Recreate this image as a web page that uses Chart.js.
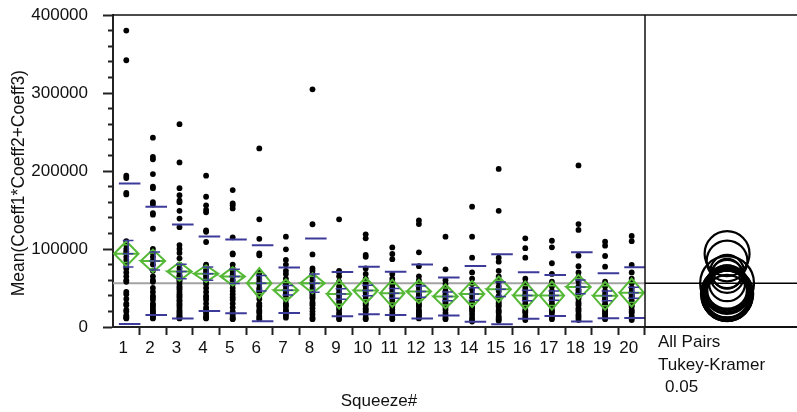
<!DOCTYPE html>
<html lang="en">
<head>
<meta charset="UTF-8">
<title>Oneway Analysis of Mean(Coeff1*Coeff2+Coeff3) By Squeeze#</title>
<script src="https://cdn.jsdelivr.net/npm/chart.js"></script>
<style>
    body { margin: 0; background: #fff; }
    #wrap { position: relative; width: 797px; height: 412px; overflow: hidden; }
    #main { position: absolute; left: 0; top: 0; }
    #circles { position: absolute; left: 645px; top: 0; }
    #note {
        position: absolute; left: 658px; top: 331px;
        font: 17px "Liberation Sans", Arial, sans-serif;
        line-height: 22.5px; color: #111;
    }
</style>
</head>
<body>
<div id="wrap">
    <canvas id="main" width="797" height="412"></canvas>
    <canvas id="circles" width="152" height="412"></canvas>
    <div id="note">All Pairs<br>Tukey-Kramer<br><span style="padding-left:7px">0.05</span></div>
</div>

<script>
    // Squeeze# groups
    var squeeze = [1, 2, 3, 4, 5, 6, 7, 8, 9, 10, 11, 12, 13, 14, 15, 16, 17, 18, 19, 20];

    // raw points per group
    var values = [
        [380000, 342000, 194000, 191000, 172000, 170000, 110000, 105000, 100000, 97000, 95000, 90000, 86000, 80000, 75000, 70000, 65000, 60000, 58000, 45000, 42000, 36000, 30000, 28000, 22000, 20000, 15000, 13000, 12000, 11000],
        [242700, 218000, 215000, 196000, 180000, 178000, 160000, 157000, 146000, 144000, 126000, 100000, 95000, 90000, 85000, 80000, 72000, 65000, 60000, 58000, 50000, 45000, 40000, 38000, 35000, 30000, 28000, 25000, 22000, 20000, 18000, 16000, 15000, 14000, 12000, 11000],
        [260000, 211000, 178000, 169000, 162000, 160000, 149000, 139000, 128000, 105000, 100000, 95000, 88000, 80000, 75000, 70000, 66000, 65000, 62000, 60000, 58000, 55000, 52000, 50000, 48000, 45000, 42000, 40000, 38000, 35000, 33000, 30000, 28000, 25000, 22000, 20000, 18000, 16000, 14000, 13000, 12000, 11000],
        [194000, 167000, 156000, 150000, 147000, 124000, 122000, 109000, 80000, 78000, 75000, 72000, 70000, 68000, 65000, 62000, 58000, 55000, 50000, 45000, 40000, 38000, 35000, 30000, 25000, 22000, 20000, 17000, 14000, 12000, 11000],
        [175600, 158600, 156000, 152000, 115000, 94500, 93000, 80000, 75000, 72000, 68000, 65000, 60000, 55000, 50000, 46000, 42000, 38000, 35000, 30000, 25000, 20000, 16000, 13000, 11000, 10000],
        [229000, 138000, 113000, 94500, 92000, 70000, 66000, 62000, 58000, 55000, 50000, 48000, 45000, 40000, 36000, 30000, 28000, 26000, 22000, 20000, 18000, 14000, 12000, 10000],
        [115800, 99600, 86000, 80000, 72000, 68000, 62000, 58000, 55000, 52000, 48000, 45000, 42000, 38000, 35000, 30000, 28000, 26000, 22000, 20000, 18000, 15000, 12000],
        [304700, 131700, 93000, 75000, 72000, 68000, 64000, 60000, 55000, 50000, 45000, 42000, 40000, 38000, 36000, 32000, 30000, 28000, 24000, 20000, 16000, 12000, 10000],
        [138000, 72000, 70000, 65000, 58000, 52000, 48000, 44000, 40000, 36000, 32000, 28000, 25000, 22000, 18000, 15000, 12000, 10000],
        [118800, 113700, 92300, 90000, 75000, 68000, 62000, 56000, 52000, 48000, 44000, 40000, 36000, 32000, 30000, 28000, 24000, 22000, 20000, 16000, 12000, 10000],
        [102000, 93600, 87000, 68000, 62000, 58000, 54000, 50000, 46000, 42000, 40000, 38000, 34000, 30000, 28000, 26000, 22000, 18000, 15000, 12000, 10000],
        [136600, 132000, 95800, 78000, 65000, 60000, 55000, 50000, 46000, 42000, 40000, 38000, 34000, 30000, 28000, 26000, 22000, 20000, 18000, 16000, 14000, 12000, 11000],
        [115800, 74000, 60000, 55000, 50000, 46000, 42000, 40000, 38000, 35000, 32000, 30000, 28000, 25000, 22000, 18000, 15000, 12000, 10000],
        [154200, 115800, 88900, 70000, 62000, 55000, 48000, 42000, 38000, 32000, 30000, 28000, 26000, 24000, 22000, 20000, 16000, 12000, 9000, 7000],
        [202600, 149000, 88900, 83800, 72000, 65000, 58000, 52000, 46000, 40000, 38000, 35000, 32000, 30000, 28000, 26000, 22000, 20000, 18000, 14000, 12000, 10000, 8000],
        [113700, 101000, 88900, 62000, 56000, 50000, 46000, 42000, 38000, 36000, 34000, 30000, 28000, 26000, 22000, 20000, 18000, 14000, 11000, 9000],
        [110600, 102200, 81700, 68000, 58000, 52000, 46000, 42000, 38000, 36000, 34000, 30000, 28000, 26000, 22000, 20000, 18000, 14000, 12000, 10000],
        [207200, 132000, 124400, 91400, 78000, 70000, 64000, 58000, 52000, 48000, 46000, 44000, 40000, 38000, 36000, 32000, 30000, 28000, 24000, 22000, 20000, 16000, 14000, 12000, 9000],
        [109400, 104300, 91000, 77300, 58000, 52000, 46000, 42000, 38000, 36000, 34000, 30000, 28000, 26000, 22000, 20000, 18000, 16000, 14000, 12000, 10000],
        [116700, 110000, 79500, 70000, 62000, 56000, 50000, 46000, 42000, 40000, 38000, 34000, 30000, 28000, 26000, 22000, 20000, 18000, 14000, 11000, 9000]
    ];

    // group summaries
    var means  = [94000, 84700, 71200, 68300, 64900, 56200, 47000, 56100, 42200, 46800, 43200, 45500, 39200, 42400, 48300, 40400, 40300, 51400, 40000, 44000];
    var ciHalf = [16000, 14500, 11900, 10600, 11800, 19200, 14100, 12800, 18600, 16700, 17500, 15000, 15400, 16700, 16400, 18000, 18000, 15400, 18000, 18000];
    var stdDev = [90000, 69400, 60300, 47650, 47400, 48700, 29200, 57500, 28400, 30500, 27750, 34650, 24350, 35700, 44850, 29900, 26300, 44500, 28850, 32450];
    var stdErr = [17000, 11600, 9200, 8500, 9200, 9900, 6100, 11700, 6700, 6600, 6200, 7200, 5600, 8000, 9300, 6700, 5900, 8900, 6300, 7100];
    var grandMean = 56000;

    var yTickStep = 20000;
    var yLabelStep = 100000;

    var green = '#55b836';
    var blue = '#3d3b9a';
    var axisFont = { family: '"Liberation Sans", Arial, sans-serif', size: 17 };

    // build line paths (null y = break in the line)
    var dots = [], diamonds = [], overlap = [], sdLines = [], errBars = [];
    squeeze.forEach(function (s, i) {
        var m = means[i], c = ciHalf[i], sd = stdDev[i], se = stdErr[i];
        values[i].forEach(function (v) { dots.push({ x: s, y: v }); });

        diamonds.push({ x: s - 0.46, y: m }, { x: s, y: m + c }, { x: s + 0.46, y: m },
                      { x: s, y: m - c }, { x: s - 0.46, y: m }, { x: s + 0.46, y: m }, { x: s, y: null });

        var k = c * Math.SQRT1_2, w = 0.46 * (1 - Math.SQRT1_2);
        overlap.push({ x: s - w, y: m + k }, { x: s + w, y: m + k }, { x: s, y: null },
                     { x: s - w, y: m - k }, { x: s + w, y: m - k }, { x: s, y: null });

        sdLines.push({ x: s - 0.28, y: m + sd }, { x: s + 0.53, y: m + sd }, { x: s, y: null },
                     { x: s - 0.28, y: m - sd }, { x: s + 0.53, y: m - sd }, { x: s, y: null });

        errBars.push({ x: s - 0.13, y: m + se }, { x: s + 0.27, y: m + se }, { x: s, y: null },
                     { x: s + 0.07, y: m + se }, { x: s + 0.07, y: m - se }, { x: s, y: null },
                     { x: s - 0.13, y: m - se }, { x: s + 0.27, y: m - se }, { x: s, y: null },
                     { x: s - 0.13, y: m }, { x: s + 0.27, y: m }, { x: s, y: null });
    });

    function pathSet(data, color, width, order) {
        return {
            type: 'line', data: data, borderColor: color, borderWidth: width,
            pointRadius: 0, spanGaps: false, fill: false, order: order
        };
    }

    var framePlugin = {
        id: 'frame',
        afterDraw: function (chart) {
            var a = chart.chartArea, ctx = chart.ctx;
            ctx.save();
            ctx.strokeStyle = '#111';
            ctx.lineWidth = 1.5;
            ctx.beginPath();
            ctx.moveTo(a.left, a.top);
            ctx.lineTo(a.right, a.top);
            ctx.moveTo(a.right, a.top);
            ctx.lineTo(a.right, a.bottom);
            ctx.stroke();
            ctx.restore();
        }
    };

    new Chart(document.getElementById('main'), {
        type: 'scatter',
        data: {
            datasets: [
                pathSet(errBars, blue, 1.5, 1),
                pathSet(sdLines, blue, 2, 2),
                pathSet(overlap, green, 1.5, 3),
                pathSet(diamonds, green, 2, 3),
                {
                    type: 'scatter', data: dots, order: 4,
                    pointRadius: 2.9, pointBackgroundColor: '#000', pointBorderWidth: 0
                },
                pathSet([{ x: 0.5, y: grandMean }, { x: 20.5, y: grandMean }], '#a3a3a3', 2, 5)
            ]
        },
        options: {
            responsive: false,
            animation: false,
            layout: { padding: { top: 15, right: 152, left: 0, bottom: 0 } },
            plugins: { legend: { display: false }, tooltip: { enabled: false } },
            scales: {
                x: {
                    type: 'linear', min: 0.5, max: 20.5,
                    afterBuildTicks: function (ax) { ax.ticks = squeeze.map(function (v) { return { value: v }; }); },
                    afterFit: function (ax) { ax.height = 85; },
                    ticks: {
                        autoSkip: false, maxRotation: 0, padding: 3, labelOffset: -3,
                        color: '#111', font: axisFont,
                        callback: function (v) { return String(v); }
                    },
                    grid: {
                        offset: true, drawOnChartArea: false, tickLength: 8, tickWidth: 2,
                        tickColor: function (ctx) { return ctx.index === 0 ? 'rgba(0,0,0,0)' : '#222'; }
                    },
                    border: { color: '#222', width: 2 },
                    title: { display: true, text: 'Squeeze#', color: '#111', font: axisFont, padding: { top: 0, bottom: 0 } }
                },
                y: {
                    min: 0, max: 400000,
                    afterFit: function (ax) {
                        ax.width = 113;
                        // keep the plot top at the layout padding (labels may overhang)
                        ax.paddingTop = 0;
                        ax.paddingBottom = 0;
                    },
                    ticks: {
                        stepSize: yTickStep, maxTicksLimit: 30, padding: 15, autoSkip: false,
                        color: '#111', font: axisFont,
                        callback: function (v) { return v % yLabelStep === 0 ? String(v) : ''; }
                    },
                    grid: {
                        drawOnChartArea: false, tickLength: 10, tickWidth: 2, tickColor: '#222',
                        tickBorderDash: function (ctx) {
                            return ctx.tick && ctx.tick.value % yLabelStep !== 0 ? [0, 5, 5] : [];
                        }
                    },
                    border: { color: '#222', width: 2 },
                    title: {
                        display: true, text: 'Mean(Coeff1*Coeff2+Coeff3)     ', color: '#111',
                        font: { family: axisFont.family, size: 17.5 }, padding: { top: 9, bottom: 0 }
                    }
                }
            }
        },
        plugins: [framePlugin]
    });

    // comparison circles panel
    var circleX = 0.54;
    var panelFrame = {
        id: 'panelFrame',
        afterDraw: function (chart) {
            var a = chart.chartArea, ctx = chart.ctx;
            ctx.save();
            ctx.strokeStyle = '#111';
            ctx.lineWidth = 1.5;
            ctx.beginPath();
            ctx.moveTo(0, a.top);
            ctx.lineTo(chart.width, a.top);
            ctx.stroke();
            ctx.lineWidth = 2;
            ctx.beginPath();
            ctx.moveTo(0, a.bottom);
            ctx.lineTo(chart.width, a.bottom);
            ctx.stroke();
            ctx.restore();
        }
    };

    new Chart(document.getElementById('circles'), {
        type: 'scatter',
        data: {
            datasets: [
                {
                    data: squeeze.map(function (s, i) { return { x: circleX, y: means[i] }; }),
                    pointBackgroundColor: 'rgba(0,0,0,0)',
                    pointBorderColor: '#000',
                    pointBorderWidth: 2.2,
                    clip: false,
                    pointRadius: function (ctx) {
                        var i = ctx.dataIndex;
                        if (i === undefined) return 3;
                        var y = ctx.chart.scales.y;
                        return (y.getPixelForValue(0) - y.getPixelForValue(ciHalf[i])) * 1.8;
                    }
                },
                pathSet([{ x: 0, y: grandMean }, { x: 1, y: grandMean }], '#000', 1.5, 1)
            ]
        },
        options: {
            responsive: false,
            animation: false,
            layout: { padding: { top: 15, bottom: 85, left: 0, right: 0 } },
            plugins: { legend: { display: false }, tooltip: { enabled: false } },
            scales: {
                x: { display: false, min: 0, max: 1 },
                y: { display: false, min: 0, max: 400000 }
            }
        },
        plugins: [panelFrame]
    });
</script>
</body>
</html>
